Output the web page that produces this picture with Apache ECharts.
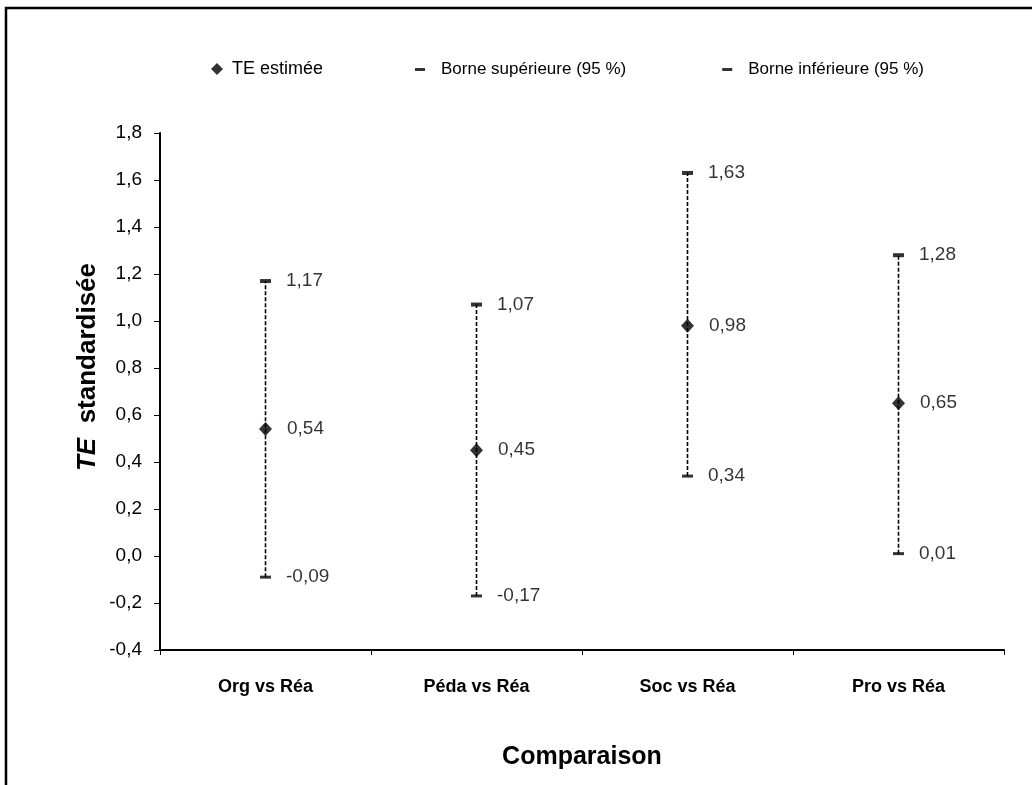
<!DOCTYPE html>
<html>
<head>
<meta charset="utf-8">
<script src="https://cdn.jsdelivr.net/npm/echarts@6/dist/echarts.min.js"></script>
<style>
html,body{margin:0;padding:0;background:#fff;}
#chart{width:1032px;height:785px;}
</style>
</head>
<body>
<div id="chart"></div>
<script>
const categories = ['Org vs Réa', 'Péda vs Réa', 'Soc vs Réa', 'Pro vs Réa'];
const estimates = [0.54, 0.45, 0.98, 0.65];
const upperBounds = [1.17, 1.07, 1.63, 1.28];
const lowerBounds = [-0.09, -0.17, 0.34, 0.01];
const seriesNames = ['TE estimée', 'Borne supérieure (95 %)', 'Borne inférieure (95 %)'];

const FONT = '"Liberation Sans", Arial, sans-serif';
const fmt2 = v => v.toFixed(2).replace('.', ',');
const fmt1 = v => v.toFixed(1).replace('.', ',');

const chart = echarts.init(document.getElementById('chart'), null, {renderer: 'canvas'});

const labelStyle = {
  show: true, position: 'right', distance: 15, color: '#000',
  fontFamily: FONT, fontSize: 19,
  formatter: p => fmt2(p.value)
};

chart.setOption({
  animation: false,
  backgroundColor: '#fff',
  textStyle: {fontFamily: FONT, color: '#000'},
  grid: {left: 160, right: 28, top: 133, bottom: 135},
  legend: [
    {
      data: [seriesNames[0]],
      left: 206, top: 55,
      itemWidth: 12, itemHeight: 12,
      textStyle: {fontFamily: FONT, fontSize: 18, color: '#000', padding: [0, 0, 0, 4]}
    },
    {
      data: [seriesNames[1], seriesNames[2]],
      left: 410, top: 56,
      icon: 'rect',
      itemWidth: 10, itemHeight: 3,
      itemGap: 96,
      textStyle: {fontFamily: FONT, fontSize: 17, color: '#000', padding: [0, 0, 0, 11]}
    }
  ],
  xAxis: {
    type: 'category',
    data: categories,
    boundaryGap: true,
    name: 'Comparaison',
    nameLocation: 'middle',
    nameGap: 95,
    nameTextStyle: {fontFamily: FONT, fontSize: 25, fontWeight: 'bold', color: '#000'},
    axisLine: {onZero: false, lineStyle: {color: '#000', width: 2}},
    axisTick: {show: true, length: 5, lineStyle: {color: '#000', width: 1}},
    axisLabel: {margin: 28, fontFamily: FONT, fontSize: 18, fontWeight: 'bold', color: '#000'},
    splitLine: {show: false}
  },
  yAxis: {
    type: 'value',
    min: -0.4, max: 1.8, interval: 0.2,
    axisLine: {show: true, onZero: false, lineStyle: {color: '#000', width: 2}},
    axisTick: {show: true, length: 6, lineStyle: {color: '#000', width: 1}},
    axisLabel: {margin: 18, fontFamily: FONT, fontSize: 19, color: '#000', formatter: v => fmt1(v)},
    splitLine: {show: false}
  },
  graphic: [
    {
      type: 'rect', silent: true, z: 100,
      shape: {x: 6, y: 8, width: 1200, height: 1000},
      style: {fill: 'none', stroke: '#000', lineWidth: 2.5}
    },
    {
      type: 'text', silent: true,
      x: 88, y: 367, rotation: Math.PI / 2,
      style: {
        text: '{i|TE}{b|  standardisée}',
        align: 'center', verticalAlign: 'middle',
        rich: {
          i: {fontFamily: FONT, fontSize: 26, fontWeight: 'bold', fontStyle: 'italic', fill: '#000'},
          b: {fontFamily: FONT, fontSize: 26, fontWeight: 'bold', fill: '#000'}
        }
      }
    }
  ],
  series: [
    {
      name: 'intervals',
      type: 'custom',
      silent: true,
      z: 1,
      data: categories.map((c, i) => [i, lowerBounds[i], upperBounds[i]]),
      encode: {x: 0, y: [1, 2]},
      renderItem: function (params, api) {
        const p1 = api.coord([api.value(0), api.value(1)]);
        const p2 = api.coord([api.value(0), api.value(2)]);
        return {
          type: 'line',
          shape: {x1: p1[0], y1: p1[1], x2: p2[0], y2: p2[1]},
          style: {stroke: '#000', lineWidth: 1.6, lineDash: [4, 2]}
        };
      }
    },
    {
      name: seriesNames[0],
      type: 'scatter',
      z: 3,
      symbol: 'diamond',
      symbolSize: [13, 14],
      itemStyle: {color: '#000'},
      label: labelStyle,
      data: estimates
    },
    {
      name: seriesNames[1],
      type: 'scatter',
      z: 3,
      symbol: 'rect',
      symbolSize: [11, 4],
      itemStyle: {color: '#000'},
      label: labelStyle,
      data: upperBounds
    },
    {
      name: seriesNames[2],
      type: 'scatter',
      z: 3,
      symbol: 'rect',
      symbolSize: [11, 3],
      itemStyle: {color: '#000'},
      label: labelStyle,
      data: lowerBounds
    }
  ]
});
</script>
</body>
</html>
